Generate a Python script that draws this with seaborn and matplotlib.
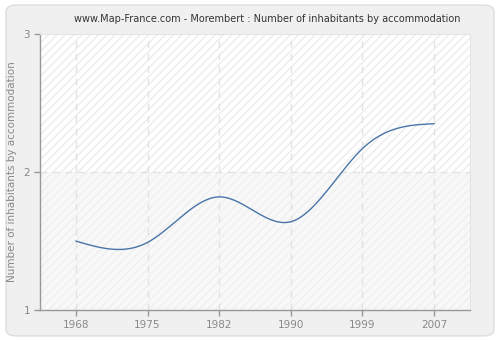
import numpy as np
import pandas as pd
import matplotlib
matplotlib.use("Agg")
import matplotlib.pyplot as plt
from matplotlib.patches import FancyBboxPatch
import seaborn as sns

years = ["1968", "1975", "1982", "1990", "1999", "2007"]
values = [1.50, 1.49, 1.82, 1.64, 2.17, 2.35]
y_ticks = [1, 2, 3]

title = "www.Map-France.com - Morembert : Number of inhabitants by accommodation"
ylabel = "Number of inhabitants by accommodation"


def natural_spline(x, y, n=60):
    x = np.asarray(x, float)
    y = np.asarray(y, float)
    k = len(x)
    h = np.diff(x)
    A = np.zeros((k, k))
    b = np.zeros(k)
    A[0, 0] = 1
    A[-1, -1] = 1
    for i in range(1, k - 1):
        A[i, i - 1] = h[i - 1]
        A[i, i] = 2 * (h[i - 1] + h[i])
        A[i, i + 1] = h[i]
        b[i] = 3 * ((y[i + 1] - y[i]) / h[i] - (y[i] - y[i - 1]) / h[i - 1])
    c = np.linalg.solve(A, b)
    xs, ys = [], []
    for i in range(k - 1):
        bb = (y[i + 1] - y[i]) / h[i] - h[i] * (2 * c[i] + c[i + 1]) / 3
        d = (c[i + 1] - c[i]) / (3 * h[i])
        t = np.linspace(0, h[i], n, endpoint=(i == k - 2))
        xs.append(x[i] + t)
        ys.append(y[i] + bb * t + c[i] * t ** 2 + d * t ** 3)
    return np.concatenate(xs), np.concatenate(ys)


sns.set_style("white")
plt.rcParams["font.family"] = ["DejaVu Sans"]

fig = plt.figure(figsize=(5, 3.4), dpi=100)
fig.patch.set_facecolor("white")
box = FancyBboxPatch((0.012, 0.012), 0.976, 0.973,
                     boxstyle="round,pad=0,rounding_size=0.02",
                     transform=fig.transFigure, facecolor="#f0f0f0",
                     edgecolor="#dddddd", linewidth=1.0, zorder=-10)
fig.patches.append(box)

ax = fig.add_axes([0.08, 0.088, 0.86, 0.812])
ax.set_zorder(1)
ax.set_facecolor("white")

idx = np.arange(len(years))
ax.axhspan(2, 3, facecolor="white", edgecolor="#ececec", hatch="////", linewidth=0, zorder=0)
ax.axhspan(1, 2, facecolor="#f8f8f8", edgecolor="#efefef", hatch="////", linewidth=0, zorder=0)

sx, sy = natural_spline(idx, values)
df = pd.DataFrame({"x": sx, "y": sy})
sns.lineplot(data=df, x="x", y="y", ax=ax, color="#4a74a8", linewidth=1.0, zorder=3)

ax.set_xlim(-0.5, len(years) - 0.5)
ax.set_ylim(1, 3)
ax.set_xticks(idx)
ax.set_xticklabels(years)
ax.set_yticks(y_ticks)
ax.set_yticklabels([str(v) for v in y_ticks])

for v in idx:
    ax.axvline(v, color="#e2e2e2", linestyle=(0, (5, 4)), linewidth=1.0, zorder=1)
ax.axhline(2, color="#e2e2e2", linestyle=(0, (5, 4)), linewidth=1.0, zorder=1)

for s in ["top", "right"]:
    ax.spines[s].set_visible(True)
    ax.spines[s].set_color("#e4e4e4")
    ax.spines[s].set_linewidth(0.8)
for s in ["left", "bottom"]:
    ax.spines[s].set_color("#999999")
    ax.spines[s].set_linewidth(1.0)

ax.tick_params(axis="both", which="major", direction="out", length=4, width=1,
               color="#999999", labelcolor="#888888", labelsize=7.5, pad=3)
ax.tick_params(axis="y", left=True)
ax.tick_params(axis="x", bottom=True)
ax.set_xlabel("")
ax.set_ylabel(ylabel, fontsize=7.5, color="#888888", va="center")
ax.yaxis.set_label_coords(-0.065, 0.5)

fig.text(0.534, 0.945, title, ha="center", va="center", fontsize=7, color="#333333")

fig.savefig("out.png", dpi=100, facecolor=fig.get_facecolor())
